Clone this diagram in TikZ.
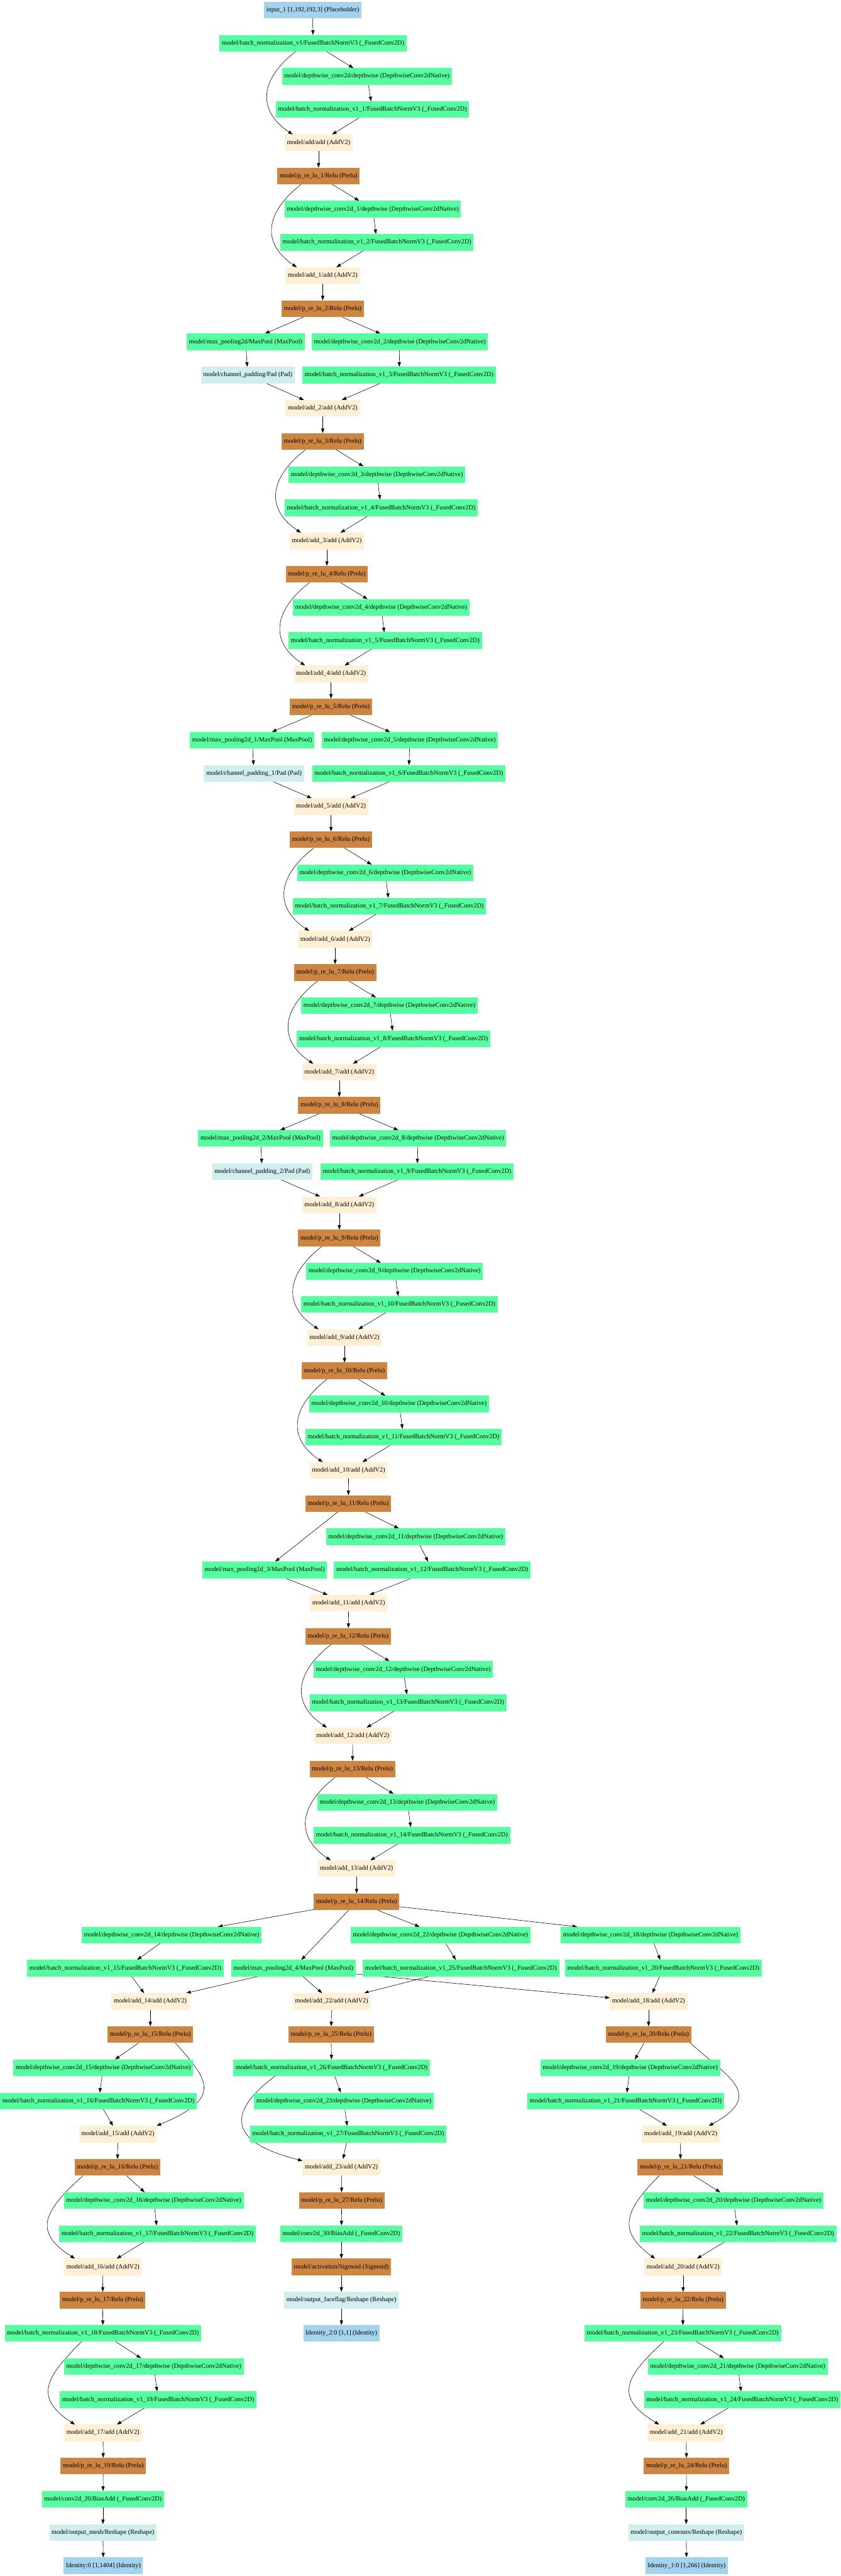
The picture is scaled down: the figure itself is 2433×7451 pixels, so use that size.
\documentclass[tikz,border=0pt]{standalone}
\usepackage{fontspec}
\setmainfont{Liberation Serif}
\usetikzlibrary{arrows.meta,calc,backgrounds}
\definecolor{cgreen}{HTML}{54FF9F}
\definecolor{cperu}{HTML}{CD853F}
\definecolor{cadd}{HTML}{FFEFD5}
\definecolor{cpad}{HTML}{D1EEEE}
\definecolor{cio}{HTML}{A4D3EE}
\newcommand\gvBN[1]{model/batch\_normalization\_v1#1/FusedBatchNormV3 (\_FusedConv2D)}
\newcommand\gvDW[1]{model/depthwise\_conv2d#1/depthwise (DepthwiseConv2dNative)}
\newcommand\gvAD[1]{model/add#1/add (AddV2)}
\newcommand\gvPR[1]{model/p\_re\_lu\_#1/Relu (Prelu)}
\newcommand\gvskip[2]{\draw[gvedge] ($(#1.south)+(-50,0)$) .. controls +(-104,80) and +(-104,-70) .. ($(#2.north)+(-75,0)$);}
\tikzset{
  gv/.style={rectangle, minimum height=36pt, inner xsep=5pt, inner ysep=0pt, outer sep=0pt, font=\fontsize{14}{17}\selectfont},
  conv/.style={gv, fill=cgreen},
  addn/.style={gv, fill=cadd},
  relu/.style={gv, fill=cperu},
  padn/.style={gv, fill=cpad},
  io/.style={gv, fill=cio},
  gvedge/.style={-{Triangle[length=10pt,width=7pt]}, line width=0.8pt, draw=black}
}
\begin{document}
\begin{tikzpicture}[x=0.75pt,y=-0.75pt]
\useasboundingbox (0,0) rectangle (2433,7451);
\node[io] (in) at (905,29) {input\_1 [1,192,192,3] (Placeholder)};
\node[conv] (bn0) at (906,125) {\gvBN{}};
\node[conv] (dw0) at (1062,221) {\gvDW{}};
\node[conv] (bn1) at (1078,317) {\gvBN{\_1}};
\node[addn] (add0) at (922,413) {\gvAD{}};
\node[relu] (pr1) at (922,509) {\gvPR{1}};
\node[conv] (dw1) at (1079,605) {\gvDW{\_1}};
\node[conv] (bn2) at (1091,701) {\gvBN{\_2}};
\node[addn] (add1) at (934,797) {\gvAD{\_1}};
\node[relu] (pr2) at (934,893) {\gvPR{2}};
\node[conv] (mp0) at (711,989) {model/max\_pooling2d/MaxPool (MaxPool)};
\node[conv] (dw2) at (1157,989) {\gvDW{\_2}};
\node[padn] (pad0) at (717,1085) {model/channel\_padding/Pad (Pad)};
\node[conv] (bn3) at (1155,1085) {\gvBN{\_3}};
\node[addn] (add2) at (934,1181) {\gvAD{\_2}};
\node[relu] (pr3) at (934,1277) {\gvPR{3}};
\node[conv] (dw3) at (1091,1373) {\gvDW{\_3}};
\node[conv] (bn4) at (1103,1469) {\gvBN{\_4}};
\node[addn] (add3) at (946,1565) {\gvAD{\_3}};
\node[relu] (pr4) at (946,1661) {\gvPR{4}};
\node[conv] (dw4) at (1103,1757) {\gvDW{\_4}};
\node[conv] (bn5) at (1115,1853) {\gvBN{\_5}};
\node[addn] (add4) at (958,1949) {\gvAD{\_4}};
\node[relu] (pr5) at (958,2045) {\gvPR{5}};
\node[conv] (mp1) at (730,2141) {model/max\_pooling2d\_1/MaxPool (MaxPool)};
\node[conv] (dw5) at (1186,2141) {\gvDW{\_5}};
\node[padn] (pad1) at (735,2237) {model/channel\_padding\_1/Pad (Pad)};
\node[conv] (bn6) at (1183,2237) {\gvBN{\_6}};
\node[addn] (add5) at (958,2333) {\gvAD{\_5}};
\node[relu] (pr6) at (958,2429) {\gvPR{6}};
\node[conv] (dw6) at (1115,2525) {\gvDW{\_6}};
\node[conv] (bn7) at (1127,2621) {\gvBN{\_7}};
\node[addn] (add6) at (970,2717) {\gvAD{\_6}};
\node[relu] (pr7) at (970,2813) {\gvPR{7}};
\node[conv] (dw7) at (1127,2909) {\gvDW{\_7}};
\node[conv] (bn8) at (1139,3005) {\gvBN{\_8}};
\node[addn] (add7) at (982,3101) {\gvAD{\_7}};
\node[relu] (pr8) at (982,3197) {\gvPR{8}};
\node[conv] (mp2) at (754,3293) {model/max\_pooling2d\_2/MaxPool (MaxPool)};
\node[conv] (dw8) at (1210,3293) {\gvDW{\_8}};
\node[padn] (pad2) at (759,3389) {model/channel\_padding\_2/Pad (Pad)};
\node[conv] (bn9) at (1207,3389) {\gvBN{\_9}};
\node[addn] (add8) at (982,3485) {\gvAD{\_8}};
\node[relu] (pr9) at (982,3581) {\gvPR{9}};
\node[conv] (dw9) at (1142,3677) {\gvDW{\_9}};
\node[conv] (bn10) at (1156,3773) {\gvBN{\_10}};
\node[addn] (add9) at (997,3869) {\gvAD{\_9}};
\node[relu] (pr10) at (997,3965) {\gvPR{10}};
\node[conv] (dw10) at (1155,4061) {\gvDW{\_10}};
\node[conv] (bn11) at (1168,4157) {\gvBN{\_11}};
\node[addn] (add10) at (1009,4253) {\gvAD{\_10}};
\node[relu] (pr11) at (1008,4349) {\gvPR{11}};
\node[conv] (dw11) at (1203,4445) {\gvDW{\_11}};
\node[conv] (mp3) at (766,4541) {model/max\_pooling2d\_3/MaxPool (MaxPool)};
\node[conv] (bn12) at (1251,4541) {\gvBN{\_12}};
\node[addn] (add11) at (1009,4637) {\gvAD{\_11}};
\node[relu] (pr12) at (1008,4733) {\gvPR{12}};
\node[conv] (dw12) at (1167,4829) {\gvDW{\_12}};
\node[conv] (bn13) at (1181,4925) {\gvBN{\_13}};
\node[addn] (add12) at (1021,5021) {\gvAD{\_12}};
\node[relu] (pr13) at (1020,5117) {\gvPR{13}};
\node[conv] (dw13) at (1179,5213) {\gvDW{\_13}};
\node[conv] (bn14) at (1192,5309) {\gvBN{\_14}};
\node[addn] (add13) at (1032,5405) {\gvAD{\_13}};
\node[relu] (pr14) at (1032,5501) {\gvPR{14}};
\node[conv] (dw14) at (497,5597) {\gvDW{\_14}};
\node[conv] (dw22) at (1275,5597) {\gvDW{\_22}};
\node[conv] (dw18) at (1883,5597) {\gvDW{\_18}};
\node[conv] (bn15) at (363,5693) {\gvBN{\_15}};
\node[conv] (mp4) at (849,5693) {model/max\_pooling2d\_4/MaxPool (MaxPool)};
\node[conv] (bn25) at (1334,5693) {\gvBN{\_25}};
\node[conv] (bn20) at (1920,5693) {\gvBN{\_20}};
\node[addn] (add14) at (435,5789) {\gvAD{\_14}};
\node[addn] (add22) at (960,5789) {\gvAD{\_22}};
\node[addn] (add18) at (1877,5789) {\gvAD{\_18}};
\node[relu] (pr15) at (435,5885) {\gvPR{15}};
\node[relu] (pr25) at (958,5885) {\gvPR{25}};
\node[relu] (pr20) at (1877,5885) {\gvPR{20}};
\node[conv] (dw15) at (299,5981) {\gvDW{\_15}};
\node[conv] (bn26) at (960,5981) {\gvBN{\_26}};
\node[conv] (dw19) at (1824,5981) {\gvDW{\_19}};
\node[conv] (bn16) at (285,6077) {\gvBN{\_16}};
\node[conv] (dw23) at (995,6077) {\gvDW{\_23}};
\node[conv] (bn21) at (1811,6077) {\gvBN{\_21}};
\node[addn] (add15) at (341,6173) {\gvAD{\_15}};
\node[conv] (bn27) at (1008,6173) {\gvBN{\_27}};
\node[addn] (add19) at (1970,6173) {\gvAD{\_19}};
\node[relu] (pr16) at (340,6269) {\gvPR{16}};
\node[addn] (add23) at (988,6269) {\gvAD{\_23}};
\node[relu] (pr21) at (1969,6269) {\gvPR{21}};
\node[conv] (dw16) at (445,6365) {\gvDW{\_16}};
\node[relu] (pr27) at (989,6365) {\gvPR{27}};
\node[conv] (dw20) at (2123,6365) {\gvDW{\_20}};
\node[conv] (bn17) at (456,6461) {\gvBN{\_17}};
\node[conv] (cv30) at (988,6461) {model/conv2d\_30/BiasAdd (\_FusedConv2D)};
\node[conv] (bn22) at (2136,6461) {\gvBN{\_22}};
\node[addn] (add16) at (298,6557) {\gvAD{\_16}};
\node[relu] (act) at (988,6557) {model/activation/Sigmoid (Sigmoid)};
\node[addn] (add20) at (1977,6557) {\gvAD{\_20}};
\node[relu] (pr17) at (297,6653) {\gvPR{17}};
\node[padn] (flag) at (988,6653) {model/output\_faceflag/Reshape (Reshape)};
\node[relu] (pr22) at (1977,6653) {\gvPR{22}};
\node[conv] (bn18) at (298,6749) {\gvBN{\_18}};
\node[io] (id2) at (988,6749) {Identity\_2:0 [1,1] (Identity)};
\node[conv] (bn23) at (1976,6749) {\gvBN{\_23}};
\node[conv] (dw17) at (445,6845) {\gvDW{\_17}};
\node[conv] (dw21) at (2135,6845) {\gvDW{\_21}};
\node[conv] (bn19) at (458,6941) {\gvBN{\_19}};
\node[conv] (bn24) at (2148,6941) {\gvBN{\_24}};
\node[addn] (add17) at (298,7037) {\gvAD{\_17}};
\node[addn] (add21) at (1986,7037) {\gvAD{\_21}};
\node[relu] (pr19) at (299,7133) {\gvPR{19}};
\node[relu] (pr24) at (1987,7133) {\gvPR{24}};
\node[conv] (cv20) at (298,7229) {model/conv2d\_20/BiasAdd (\_FusedConv2D)};
\node[conv] (cv26) at (1986,7229) {model/conv2d\_26/BiasAdd (\_FusedConv2D)};
\node[padn] (mesh) at (298,7325) {model/output\_mesh/Reshape (Reshape)};
\node[padn] (cont) at (1986,7325) {model/output\_contours/Reshape (Reshape)};
\node[io] (id0) at (299,7421) {Identity:0 [1,1404] (Identity)};
\node[io] (id1) at (1987,7421) {Identity\_1:0 [1,266] (Identity)};
\begin{scope}[on background layer]
\foreach \a/\b in {in/bn0, bn0/dw0, dw0/bn1, bn1/add0, add0/pr1,
  pr1/dw1, dw1/bn2, bn2/add1, add1/pr2,
  pr2/mp0, pr2/dw2, mp0/pad0, dw2/bn3, pad0/add2, bn3/add2, add2/pr3,
  pr3/dw3, dw3/bn4, bn4/add3, add3/pr4,
  pr4/dw4, dw4/bn5, bn5/add4, add4/pr5,
  pr5/mp1, pr5/dw5, mp1/pad1, dw5/bn6, pad1/add5, bn6/add5, add5/pr6,
  pr6/dw6, dw6/bn7, bn7/add6, add6/pr7,
  pr7/dw7, dw7/bn8, bn8/add7, add7/pr8,
  pr8/mp2, pr8/dw8, mp2/pad2, dw8/bn9, pad2/add8, bn9/add8, add8/pr9,
  pr9/dw9, dw9/bn10, bn10/add9, add9/pr10,
  pr10/dw10, dw10/bn11, bn11/add10, add10/pr11,
  pr11/mp3, pr11/dw11, dw11/bn12, mp3/add11, bn12/add11, add11/pr12,
  pr12/dw12, dw12/bn13, bn13/add12, add12/pr13,
  pr13/dw13, dw13/bn14, bn14/add13, add13/pr14,
  pr14/dw14, pr14/mp4, pr14/dw22, pr14/dw18,
  dw14/bn15, dw22/bn25, dw18/bn20,
  bn15/add14, mp4/add14, mp4/add22, bn25/add22, mp4/add18, bn20/add18,
  add14/pr15, pr15/dw15, dw15/bn16, bn16/add15, add15/pr16, pr16/dw16, dw16/bn17, bn17/add16,
  add16/pr17, pr17/bn18, bn18/dw17, dw17/bn19, bn19/add17, add17/pr19, pr19/cv20, cv20/mesh, mesh/id0,
  add22/pr25, pr25/bn26, bn26/dw23, dw23/bn27, bn27/add23, add23/pr27, pr27/cv30, cv30/act, act/flag, flag/id2,
  add18/pr20, pr20/dw19, dw19/bn21, bn21/add19, add19/pr21, pr21/dw20, dw20/bn22, bn22/add20,
  add20/pr22, pr22/bn23, bn23/dw21, dw21/bn24, bn24/add21, add21/pr24, pr24/cv26, cv26/cont, cont/id1}
  \draw[gvedge] (\a) -- (\b);
\foreach \a/\b in {bn0/add0, pr1/add1, pr3/add3, pr4/add4, pr6/add6, pr7/add7, pr9/add9, pr10/add10, pr12/add12, pr13/add13}
  \gvskip{\a}{\b};
\draw[gvedge] ($(pr15.south)+(72,0)$) .. controls +(100,110) and +(190,-80) .. (add15.north east);
\draw[gvedge] ($(pr20.south east)+(-3,0)$) .. controls +(110,100) and +(165,-90) .. ($(add19.north)+(81,0)$);
\draw[gvedge] ($(pr16.south)+(-100,0)$) .. controls +(-110,100) and +(-126,-80) .. ($(add16.north)+(-81,0)$);
\draw[gvedge] ($(bn18.south)+(-62,0)$) .. controls +(-100,100) and +(-123,-80) .. ($(add17.north)+(-81,0)$);
\draw[gvedge] ($(bn26.south)+(-164,0)$) .. controls +(-120,90) and +(-240,-60) .. ($(add23.west)+(0,-19)$);
\draw[gvedge] ($(pr21.south)+(-61,0)$) .. controls +(-100,100) and +(-111,-80) .. ($(add20.north)+(-81,0)$);
\draw[gvedge] ($(bn23.south)+(-55,0)$) .. controls +(-110,100) and +(-134,-80) .. ($(add21.north)+(-78,0)$);
\end{scope}
\end{tikzpicture}
\end{document}
